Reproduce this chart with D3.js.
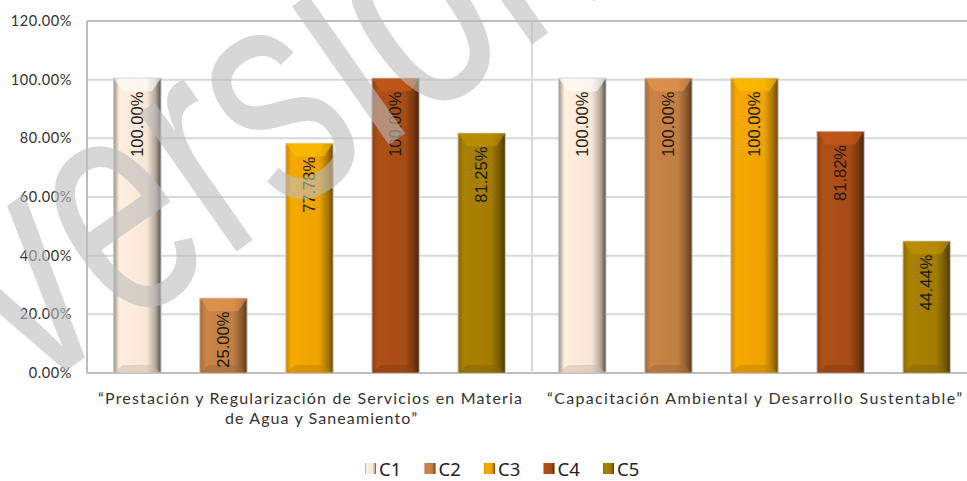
<!DOCTYPE html>
<html>
<head>
<meta charset="utf-8">
<script src="https://cdn.jsdelivr.net/npm/d3@7"></script>
<style>
  body { margin: 0; background: #fff; overflow: hidden; }
  svg { display: block; }
</style>
</head>
<body>
<div id="chart"></div>
<script>
var categoryKeys = ["g1", "g2"];
var categoryLines = [
    ["\u201cPrestación y Regularización de Servicios en Materia", "de Agua y Saneamiento\u201d"],
    ["\u201cCapacitación Ambiental y Desarrollo Sustentable\u201d"]
];
var seriesNames = ["C1", "C2", "C3", "C4", "C5"];
var g1Values = [100, 25, 77.78, 100, 81.25];
var g2Values = [100, 100, 100, 81.82, 44.44];
var tickValues = [0, 20, 40, 60, 80, 100, 120];
var colors = ["#f9e7d6", "#c27f43", "#eea300", "#a84c15", "#a37c00"];

var width = 967, height = 481;
var plotLeft = 87, plotRight = 977, plotTop = 21, plotBottom = 373;

var svg = d3.select('#chart').append('svg')
    .attr('width', width)
    .attr('height', height);

var defs = svg.append('defs');

// horizontal bevel gradient per series
colors.forEach(function(c, i) {
    var base = d3.color(c);
    var g = defs.append('linearGradient')
        .attr('id', 'grad' + i)
        .attr('x1', '0%').attr('x2', '100%').attr('y1', '0%').attr('y2', '0%');
    g.append('stop').attr('offset', '0%').attr('stop-color', i == 0 ? '#9a928c' : base.darker(0.5));
    g.append('stop').attr('offset', '12%').attr('stop-color', base.brighter(0.1));
    g.append('stop').attr('offset', '70%').attr('stop-color', base);
    g.append('stop').attr('offset', '88%').attr('stop-color', base.darker(0.9));
    g.append('stop').attr('offset', '100%').attr('stop-color', i == 0 ? '#55504c' : base.darker(2.2));
});

var x0 = d3.scaleBand()
    .domain(categoryKeys)
    .range([plotLeft, plotRight]);

var x1 = d3.scaleBand()
    .domain(seriesNames)
    .range([0, x0.bandwidth()])
    .paddingInner(0.45)
    .paddingOuter(0.31);

var y = d3.scaleLinear()
    .domain([0, 120])
    .range([plotBottom, plotTop]);

// gridlines
svg.append('g').selectAll('line')
    .data(tickValues)
    .enter()
    .append('line')
    .attr('x1', plotLeft)
    .attr('x2', width)
    .attr('y1', function(d) { return y(d); })
    .attr('y2', function(d) { return y(d); })
    .attr('stroke', function(d) { return d == 120 || d == 0 ? '#bdbdbd' : '#d9d9d9'; })
    .attr('stroke-width', 2);

// vertical lines: axis and category separator
svg.append('line')
    .attr('x1', plotLeft).attr('x2', plotLeft)
    .attr('y1', plotTop).attr('y2', plotBottom)
    .attr('stroke', '#bdbdbd').attr('stroke-width', 2);

svg.append('line')
    .attr('x1', x0('g2')).attr('x2', x0('g2'))
    .attr('y1', plotTop).attr('y2', plotBottom)
    .attr('stroke', '#d9d9d9').attr('stroke-width', 2);

// y tick labels
svg.append('g').selectAll('text')
    .data(tickValues)
    .enter()
    .append('text')
    .attr('x', 72)
    .attr('y', function(d) { return y(d); })
    .attr('dy', '0.35em')
    .attr('text-anchor', 'end')
    .attr('font-family', 'Lato')
    .attr('font-size', '14.5px')
    .attr('letter-spacing', '0.6px')
    .attr('fill', '#333')
    .text(function(d) { return d3.format('.2f')(d) + '%'; });

var rows = [g1Values, g2Values];
var barData = [];
categoryKeys.forEach(function(k, ci) {
    seriesNames.forEach(function(s, si) {
        barData.push({ cat: k, series: s, si: si, value: rows[ci][si] });
    });
});

var bars = svg.append('g').selectAll('.bar')
    .data(barData)
    .enter()
    .append('g')
    .attr('class', 'bar');

bars.append('rect')
    .attr('x', function(d) { return x0(d.cat) + x1(d.series); })
    .attr('y', function(d) { return y(d.value) - 1.5; })
    .attr('width', x1.bandwidth())
    .attr('height', function(d) { return plotBottom - y(d.value) + 1.5; })
    .attr('fill', function(d) { return 'url(#grad' + d.si + ')'; })
    .attr('stroke', '#c8c8c8')
    .attr('stroke-width', 1);

// top bevel
bars.append('path')
    .attr('d', function(d) {
        var xl = x0(d.cat) + x1(d.series), xr = xl + x1.bandwidth(), yt = y(d.value) - 1.5;
        return 'M' + xl + ',' + yt + 'L' + xr + ',' + yt + 'L' + (xr - 9) + ',' + (yt + 13) +
            'L' + (xl + 9) + ',' + (yt + 13) + 'Z';
    })
    .attr('fill', function(d) { return d3.color(colors[d.si]).brighter(0.5); })
    .attr('opacity', 0.6);

// bottom bevel
bars.append('path')
    .attr('d', function(d) {
        var xl = x0(d.cat) + x1(d.series), xr = xl + x1.bandwidth();
        return 'M' + (xl + 9) + ',' + (plotBottom - 8) + 'L' + (xr - 9) + ',' + (plotBottom - 8) +
            'L' + xr + ',' + plotBottom + 'L' + xl + ',' + plotBottom + 'Z';
    })
    .attr('fill', function(d) { return d3.color(colors[d.si]).darker(0.6); })
    .attr('opacity', 0.5);

// value labels
bars.append('text')
    .attr('transform', function(d) {
        var cx = x0(d.cat) + x1(d.series) + x1.bandwidth() / 2;
        return 'translate(' + cx + ',' + (y(d.value) + 12) + ') rotate(-90)';
    })
    .attr('dy', '0.35em')
    .attr('text-anchor', 'end')
    .attr('font-family', 'Liberation Sans')
    .attr('font-size', '16.5px')
    .attr('fill', '#1a1a1a')
    .text(function(d) { return d3.format('.2f')(d.value) + '%'; });

// category labels
var catLengths = [[424, 192], [415]];
var catCenters = [[310, 321], [754.5]];
categoryKeys.forEach(function(k, ci) {
    categoryLines[ci].forEach(function(line, li) {
        svg.append('text')
            .attr('x', catCenters[ci][li])
            .attr('y', 404 + li * 20)
            .attr('text-anchor', 'middle')
            .attr('font-family', 'Lato')
            .attr('font-size', '16px')
            .attr('fill', '#333')
            .attr('textLength', catLengths[ci][li])
            .attr('lengthAdjust', 'spacing')
            .text(line);
    });
});

// legend
var legend = svg.append('g').selectAll('.leg')
    .data(seriesNames)
    .enter()
    .append('g')
    .attr('class', 'leg')
    .attr('transform', function(d, i) { return 'translate(' + (365 + i * 59.5) + ',463)'; });

legend.append('rect')
    .attr('width', 11)
    .attr('height', 11)
    .attr('fill', function(d, i) { return 'url(#grad' + i + ')'; });

legend.append('text')
    .attr('x', 14)
    .attr('y', 13)
    .attr('font-family', 'Noto Sans')
    .attr('font-size', '18.5px')
    .attr('fill', '#222')
    .text(function(d) { return d; });

// watermark
svg.append('text')
    .attr('transform', 'translate(30,396) rotate(-35) scale(0.7,1)')
    .attr('font-family', 'Liberation Sans')
    .attr('font-size', '320px')
    .attr('fill', '#bdbdbd')
    .attr('opacity', 0.6)
    .text('versión');
</script>
</body>
</html>
